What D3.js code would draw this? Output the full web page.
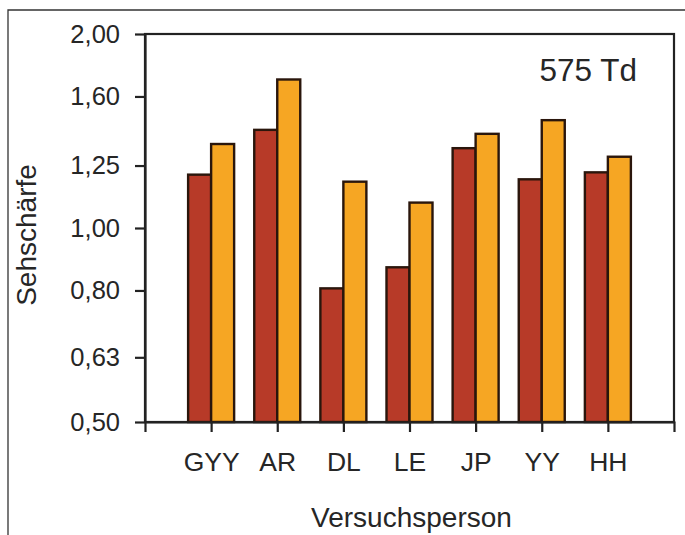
<!DOCTYPE html>
<html>
<head>
<meta charset="utf-8">
<script src="https://cdn.jsdelivr.net/npm/d3@7"></script>
<style>
  html, body { margin: 0; padding: 0; background: #ffffff; }
  svg { display: block; font-family: Arial, "Liberation Sans", sans-serif; }
</style>
</head>
<body>
<svg id="chart" width="685" height="535"></svg>
<script>
// ---- data ----
const categories = ["GYY", "AR", "DL", "LE", "JP", "YY", "HH"];
const seriesRed = [1.21, 1.42, 0.806, 0.869, 1.33, 1.19, 1.22];
const seriesOrange = [1.35, 1.70, 1.18, 1.095, 1.40, 1.47, 1.29];
const yTickValues = [0.50, 0.63, 0.80, 1.00, 1.25, 1.60, 2.00];
const yTickLabels = ["0,50", "0,63", "0,80", "1,00", "1,25", "1,60", "2,00"];
const annotation = "575 Td";
const xTitle = "Versuchsperson";
const yTitle = "Sehschärfe";

// ---- layout ----
const svg = d3.select("#chart");
const pLeft = 145, pRight = 674, pTop = 34, pBottom = 422;
const barW = 23;
const ink = "#262626";

const x = d3.scalePoint().domain(categories).range([pLeft, pRight]).padding(1);
const y = d3.scaleLog().domain([0.5, 2.0]).range([pBottom, pTop]);

// outer frame (top and left edges)
svg.append("path")
  .attr("d", d3.line()([[8, 535], [8, 10], [685, 10]]))
  .attr("fill", "none").attr("stroke", "#333").attr("stroke-width", 1.3);

// plot frame
svg.append("rect")
  .attr("x", pLeft).attr("y", pTop)
  .attr("width", pRight - pLeft).attr("height", pBottom - pTop)
  .attr("fill", "#fff").attr("stroke", "#222").attr("stroke-width", 2.2);

// bars
const series = [
  { values: seriesRed, color: "#b73a28", offset: -1 },
  { values: seriesOrange, color: "#f6a623", offset: 0 }
];
series.forEach(s => {
  svg.append("g").selectAll("rect")
    .data(categories.map((c, i) => ({ c, v: s.values[i] })))
    .join("rect")
    .attr("x", d => x(d.c) + s.offset * barW)
    .attr("y", d => y(d.v))
    .attr("width", barW)
    .attr("height", d => y(0.5) - y(d.v))
    .attr("fill", s.color)
    .attr("stroke", "#2a160c")
    .attr("stroke-width", 2.4);
});

// axes
const yAxis = d3.axisLeft(y)
  .tickValues(yTickValues)
  .tickFormat((d, i) => yTickLabels[i])
  .tickSize(10).tickSizeOuter(0).tickPadding(15);
const gy = svg.append("g").attr("transform", `translate(${pLeft},0)`).call(yAxis);
gy.select(".domain").attr("stroke", "#222").attr("stroke-width", 2.2);
gy.selectAll(".tick line").attr("stroke", "#222").attr("stroke-width", 2.2);
gy.selectAll(".tick text").attr("font-size", 25.5).attr("fill", ink)
  .attr("font-family", "Arial, 'Liberation Sans', sans-serif");

const xAxis = d3.axisBottom(x).tickSize(10).tickSizeOuter(10).tickPadding(20);
const gx = svg.append("g").attr("transform", `translate(0,${pBottom})`).call(xAxis);
gx.select(".domain").attr("stroke", "#222").attr("stroke-width", 2.2);
gx.selectAll(".tick line").attr("stroke", "#222").attr("stroke-width", 2.2);
gx.selectAll(".tick text").attr("font-size", 26.5).attr("fill", ink)
  .attr("font-family", "Arial, 'Liberation Sans', sans-serif");

// annotation
svg.append("text")
  .attr("x", 637).attr("y", 81)
  .attr("text-anchor", "end")
  .attr("font-size", 31.5).attr("fill", ink)
  .text(annotation);

// axis titles
svg.append("text")
  .attr("x", (pLeft + pRight) / 2 + 2).attr("y", 527)
  .attr("text-anchor", "middle")
  .attr("font-size", 28).attr("fill", ink)
  .text(xTitle);

svg.append("text")
  .attr("transform", `translate(36,${(pTop + pBottom) / 2 + 7}) rotate(-90)`)
  .attr("text-anchor", "middle")
  .attr("font-size", 28).attr("fill", ink)
  .text(yTitle);
</script>
</body>
</html>
